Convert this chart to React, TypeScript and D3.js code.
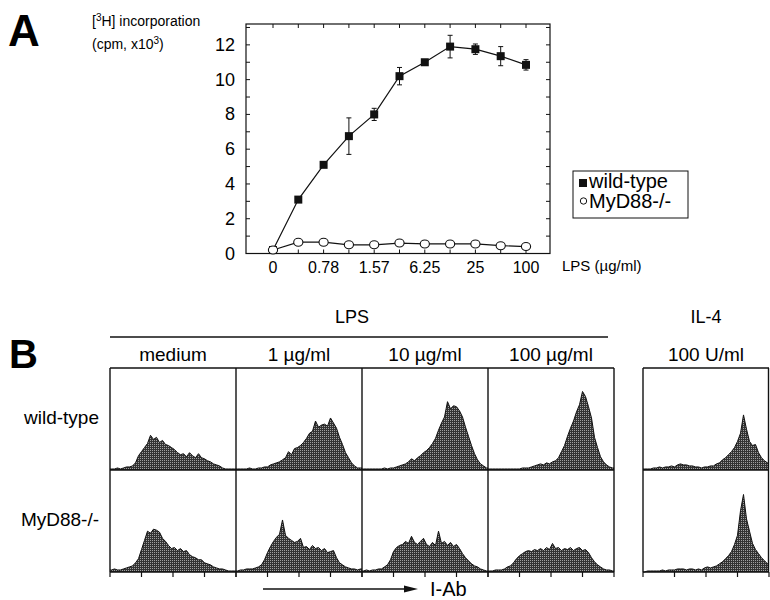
import React from 'react';
import * as d3 from 'd3';

// panel A: [3H] incorporation, cpm x10^3
const doses = ['0', '0.39', '0.78', '1.17', '1.57', '3.13', '6.25', '12.5', '25', '50', '100'];
const doseTickLabels = ['0', '0.78', '1.57', '6.25', '25', '100'];
const wildType = [0.2, 3.1, 5.1, 6.75, 8.0, 10.2, 11.0, 11.9, 11.75, 11.35, 10.85];
const wildTypeErr = [0, 0.1, 0.15, 1.05, 0.35, 0.5, 0.15, 0.65, 0.3, 0.55, 0.3];
const myd88 = [0.2, 0.65, 0.65, 0.5, 0.5, 0.6, 0.55, 0.55, 0.55, 0.45, 0.4];
const yTicks = [0, 2, 4, 6, 8, 10, 12];
const yMinor = d3.range(0, 14);

// panel B: I-Ab histograms (42 channels each, height in % of panel)
const lpsColumns = ['medium', '1 \u00b5g/ml', '10 \u00b5g/ml', '100 \u00b5g/ml'];
const il4Column = '100 U/ml';
const rowLabels = ['wild-type', 'MyD88-/-'];

const wtMedium = [1, 1, 2, 1, 2, 3, 3, 4, 7, 14, 18, 22, 26, 34, 30, 32, 27, 29, 25, 24, 22, 20, 17, 15, 16, 13, 17, 14, 12, 16, 12, 11, 9, 8, 6, 5, 4, 2, 1, 1, 1, 1];
const wtLps1 = [1, 1, 1, 1, 2, 1, 1, 2, 2, 3, 3, 5, 6, 7, 8, 10, 12, 18, 15, 21, 22, 24, 27, 31, 36, 38, 48, 42, 44, 45, 43, 51, 46, 41, 32, 25, 17, 12, 7, 4, 2, 2];
const wtLps10 = [1, 1, 1, 1, 1, 1, 1, 2, 1, 2, 2, 3, 4, 5, 6, 8, 11, 9, 12, 14, 17, 19, 22, 26, 31, 39, 46, 52, 67, 60, 63, 62, 58, 52, 42, 33, 24, 16, 10, 6, 4, 2];
const wtLps100 = [1, 1, 1, 1, 1, 1, 1, 1, 1, 1, 1, 2, 2, 2, 3, 4, 5, 6, 5, 7, 6, 8, 9, 12, 18, 24, 33, 41, 48, 57, 64, 77, 72, 62, 51, 32, 22, 13, 8, 5, 3, 2];
const wtIl4 = [1, 1, 1, 2, 2, 3, 2, 3, 3, 4, 3, 5, 6, 5, 5, 4, 4, 3, 3, 2, 3, 3, 4, 4, 6, 7, 10, 12, 15, 18, 22, 28, 36, 54, 40, 28, 24, 25, 17, 12, 9, 7];
const koMedium = [2, 3, 2, 2, 3, 4, 5, 6, 9, 13, 22, 31, 40, 38, 42, 41, 39, 33, 30, 26, 23, 24, 21, 23, 20, 21, 17, 15, 14, 12, 12, 9, 8, 7, 5, 4, 3, 3, 2, 1, 1, 1];
const koLps1 = [1, 2, 2, 3, 3, 3, 4, 5, 7, 12, 19, 25, 30, 34, 37, 51, 36, 33, 31, 29, 30, 33, 24, 25, 22, 26, 23, 24, 21, 23, 19, 20, 21, 14, 9, 7, 5, 4, 3, 3, 2, 3];
const koLps10 = [1, 2, 1, 2, 2, 3, 3, 5, 7, 12, 20, 24, 26, 27, 30, 28, 35, 29, 27, 30, 33, 27, 25, 29, 26, 40, 28, 30, 26, 29, 25, 27, 23, 18, 14, 11, 8, 6, 5, 3, 2, 1];
const koLps100 = [1, 1, 2, 2, 2, 3, 5, 6, 9, 13, 16, 18, 20, 21, 20, 22, 21, 23, 21, 24, 22, 28, 23, 24, 21, 23, 22, 24, 21, 23, 24, 21, 22, 19, 14, 10, 7, 5, 3, 2, 2, 1];
const koIl4 = [0, 1, 1, 1, 1, 1, 2, 1, 2, 2, 2, 3, 3, 3, 2, 3, 3, 2, 3, 2, 4, 5, 4, 5, 6, 8, 10, 13, 16, 20, 27, 36, 60, 76, 52, 40, 28, 22, 18, 14, 11, 8];

const FONT = 'Liberation Sans, Arial, Helvetica, sans-serif';

function Histogram({ values, x0, y0, w, h }: { values: number[]; x0: number; y0: number; w: number; h: number }) {
  const hx = d3.scaleLinear().domain([0, values.length]).range([0, w]);
  const hy = d3.scaleLinear().domain([0, 100]).range([h, 0]);
  const pts: [number, number][] = [[0, values[0]]];
  values.forEach((v, i) => pts.push([i + 0.5, v]));
  pts.push([values.length, values[values.length - 1]]);
  const area = d3.area<[number, number]>().x(d => hx(d[0])).y0(h).y1(d => hy(d[1]));
  const line = d3.line<[number, number]>().x(d => hx(d[0])).y(d => hy(d[1]));
  return (
    <g transform={`translate(${x0},${y0})`}>
      <path d={area(pts) || ''} fill="url(#halftone)" />
      <path d={line(pts) || ''} fill="none" stroke="#111" strokeWidth={1} />
    </g>
  );
}

export default function App() {
  // ---- panel A scales
  const left = 246, right = 550, top = 24, bottom = 253.5;
  const x = d3.scalePoint<string>().domain(doses).range([273, 526]);
  const y = d3.scaleLinear().domain([0, 13.2]).range([bottom, top]);
  const wtLine = d3.line<number>().x((_, i) => x(doses[i])!).y(d => y(d));

  // ---- panel B scales
  const col = d3.scaleBand<string>().domain(lpsColumns).range([110, 614]);
  const row = d3.scaleBand<string>().domain(rowLabels).range([368, 572]);
  const bw = col.bandwidth();
  const bh = row.bandwidth();
  const il4Left = 643;
  const hists = [
    [wtMedium, wtLps1, wtLps10, wtLps100],
    [koMedium, koLps1, koLps10, koLps100],
  ];
  const il4 = [wtIl4, koIl4];
  const tickFrac = [0, 0.25, 0.5, 0.75, 1];
  const panelLefts = [...lpsColumns.map(c => col(c)!), il4Left];

  return (
    <svg width={770} height={600} style={{ position: 'absolute', left: 0, top: 0, background: '#fff' }} fontFamily={FONT}>
      <defs>
        <pattern id="halftone" width={2} height={2} patternUnits="userSpaceOnUse">
          <rect width={2} height={2} fill="#333" />
          <rect width={1} height={1} fill="#a0a0a0" />
        </pattern>
      </defs>
      <rect width={770} height={600} fill="#fff" />

      {/* ===== A ===== */}
      <text x={8} y={46} fontSize={44} fontWeight="bold">A</text>
      <text x={92} y={26} fontSize={14}>
        [<tspan dy={-5} fontSize={10}>3</tspan><tspan dy={5}>H] incorporation</tspan>
      </text>
      <text x={92} y={49} fontSize={14}>
        (cpm, x10<tspan dy={-5} fontSize={10}>3</tspan><tspan dy={5}>)</tspan>
      </text>

      <rect x={left} y={top} width={right - left} height={bottom - top} fill="none" stroke="#111" strokeWidth={1.2} />
      {yMinor.map(t => (
        <g key={'ym' + t}>
          <line x1={left} x2={left + 4} y1={y(t)} y2={y(t)} stroke="#111" />
          <line x1={right} x2={right - 4} y1={y(t)} y2={y(t)} stroke="#111" />
        </g>
      ))}
      {yTicks.map(t => (
        <text key={'yt' + t} x={235} y={y(t) + 6} fontSize={18} textAnchor="end">{t}</text>
      ))}
      {doses.map(d => (
        <g key={'xt' + d}>
          <line x1={x(d)} x2={x(d)} y1={bottom} y2={bottom - 4} stroke="#111" />
          <line x1={x(d)} x2={x(d)} y1={top} y2={top + 4} stroke="#111" />
        </g>
      ))}
      {doses.filter(d => doseTickLabels.includes(d)).map(d => (
        <text key={'xl' + d} x={x(d)} y={273} fontSize={16} textAnchor="middle">{d}</text>
      ))}
      <text x={562} y={271} fontSize={15}>{'LPS (\u00b5g/ml)'}</text>

      <path d={wtLine(wildType) || ''} fill="none" stroke="#111" strokeWidth={1.2} />
      <path d={wtLine(myd88) || ''} fill="none" stroke="#111" strokeWidth={1.2} />
      {wildType.map((v, i) => wildTypeErr[i] > 0.2 ? (
        <g key={'eb' + i} stroke="#111" strokeWidth={1}>
          <line x1={x(doses[i])} x2={x(doses[i])} y1={y(v - wildTypeErr[i])} y2={y(v + wildTypeErr[i])} />
          <line x1={x(doses[i])! - 2.5} x2={x(doses[i])! + 2.5} y1={y(v - wildTypeErr[i])} y2={y(v - wildTypeErr[i])} />
          <line x1={x(doses[i])! - 2.5} x2={x(doses[i])! + 2.5} y1={y(v + wildTypeErr[i])} y2={y(v + wildTypeErr[i])} />
        </g>
      ) : null)}
      {wildType.map((v, i) => (
        <rect key={'sq' + i} x={x(doses[i])! - 4} y={y(v) - 4} width={8} height={8} fill="#111" />
      ))}
      {myd88.map((v, i) => (
        <ellipse key={'ci' + i} cx={x(doses[i])} cy={y(v)} rx={4.6} ry={4} fill="#fff" stroke="#111" strokeWidth={1.1} />
      ))}

      {/* legend */}
      <rect x={573} y={171} width={115} height={47} fill="#fff" stroke="#111" strokeWidth={1} />
      <rect x={579} y={179} width={8} height={8} fill="#111" />
      <text x={589} y={188} fontSize={20}>wild-type</text>
      <circle cx={583.5} cy={201} r={3.2} fill="#fff" stroke="#111" />
      <text x={589} y={208} fontSize={20}>MyD88-/-</text>

      {/* ===== B ===== */}
      <text x={9} y={368} fontSize={40} fontWeight="bold">B</text>
      <text x={352} y={323} fontSize={18} textAnchor="middle">LPS</text>
      <line x1={110} x2={608} y1={337} y2={337} stroke="#111" strokeWidth={1.3} />
      <text x={il4Left + bw / 2} y={323} fontSize={18} textAnchor="middle">IL-4</text>
      {lpsColumns.map(c => (
        <text key={'ch' + c} x={col(c)! + bw / 2} y={361} fontSize={19} textAnchor="middle">{c}</text>
      ))}
      <text x={il4Left + bw / 2} y={361} fontSize={19} textAnchor="middle">{il4Column}</text>
      {rowLabels.map(r => (
        <text key={'rl' + r} x={99} y={row(r)! + 56} fontSize={19} textAnchor="end">{r}</text>
      ))}

      {rowLabels.map((r, ri) => (
        <g key={'row' + r}>
          {lpsColumns.map((c, ci) => (
            <Histogram key={c} values={hists[ri][ci]} x0={col(c)!} y0={row(r)!} w={bw} h={bh} />
          ))}
          <Histogram values={il4[ri]} x0={il4Left} y0={row(r)!} w={bw} h={bh} />
        </g>
      ))}

      {/* frames */}
      <g stroke="#111" strokeWidth={1.4} fill="none">
        <line x1={110} x2={614} y1={368} y2={368} />
        <line x1={110} x2={614} y1={470} y2={470} />
        <line x1={110} x2={614} y1={572} y2={572} />
        {[...lpsColumns.map(c => col(c)!), 614].map((xx, i) => (
          <line key={'v' + i} x1={xx} x2={xx} y1={368} y2={572} />
        ))}
        <line x1={il4Left} x2={il4Left + bw} y1={368} y2={368} />
        <line x1={il4Left} x2={il4Left + bw} y1={470} y2={470} />
        <line x1={il4Left} x2={il4Left + bw} y1={572} y2={572} />
        <line x1={il4Left} x2={il4Left} y1={368} y2={572} />
        <line x1={il4Left + bw - 0.5} x2={il4Left + bw - 0.5} y1={368} y2={572} />
      </g>
      {panelLefts.map((pl, pi) => tickFrac.map(f => (
        <line key={`bt${pi}-${f}`} x1={pl + f * bw} x2={pl + f * bw} y1={572} y2={577} stroke="#111" strokeWidth={1.2} />
      )))}

      {/* I-Ab arrow */}
      <line x1={263} x2={410} y1={589} y2={589} stroke="#111" strokeWidth={1.3} />
      <path d="M404,585.5 L418,589 L404,592.5 Z" fill="#111" />
      <text x={430} y={596} fontSize={20}>I-Ab</text>
    </svg>
  );
}
